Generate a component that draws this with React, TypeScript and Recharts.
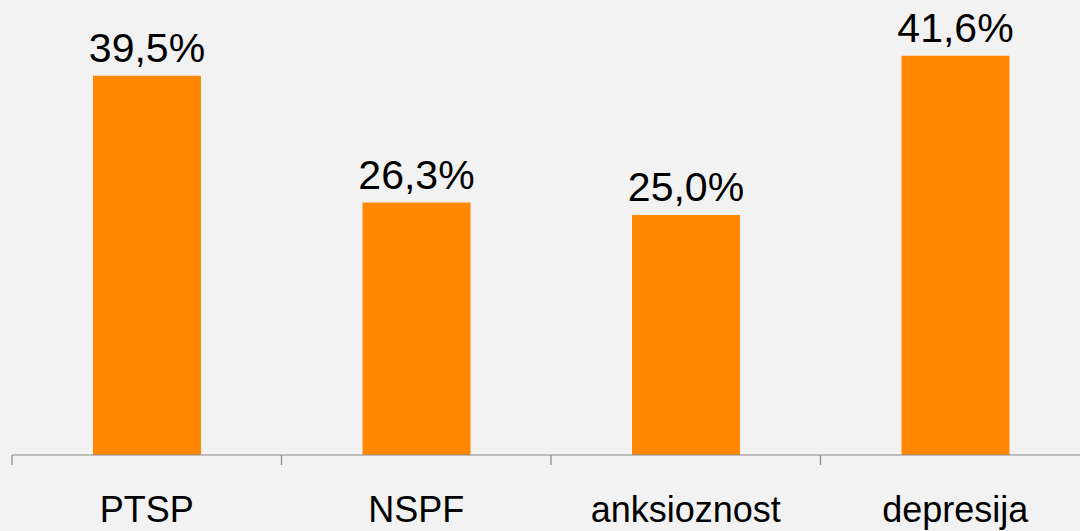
import React from "react";
import { BarChart, Bar, XAxis, YAxis, LabelList } from "recharts";

const categories = ["PTSP", "NSPF", "anksioznost", "depresija"];
const values = [39.5, 26.3, 25.0, 41.6];

const data = categories.map((name, i) => ({ name, value: values[i] }));

const fmt = (v: number) => v.toFixed(1).replace(".", ",") + "%";

const BAND = 269.5;

const CatTick = (props: any) => {
  const { x, y, payload, index } = props;
  const axisY = y - 10;
  const left = x - BAND / 2;
  return (
    <g>
      <line x1={left} y1={axisY} x2={left} y2={axisY + 10} stroke="#898989" strokeWidth={1.2} />
      {index === categories.length - 1 && (
        <line x1={x + BAND / 2} y1={axisY} x2={x + BAND / 2} y2={axisY + 10} stroke="#898989" strokeWidth={1.2} />
      )}
      <text x={x} y={axisY + 67} textAnchor="middle" fontSize={36} fill="#000" fontFamily="'Liberation Sans', Arial, sans-serif">
        {payload.value}
      </text>
    </g>
  );
};

export default function App() {
  return (
    <div style={{ position: "absolute", left: 0, top: 0, width: 1080, height: 531, overflow: "hidden", background: "#F2F2F2" }}>
      <BarChart
        width={1090}
        height={531}
        data={data}
        margin={{ top: 23, right: 0, left: 12, bottom: 0 }}
        style={{ fontFamily: "'Liberation Sans', Arial, sans-serif" }}
      >
        <YAxis hide domain={[0, 45]} />
        <XAxis
          dataKey="name"
          height={76}
          tickSize={10}
          tickMargin={0}
          tickLine={false}
          axisLine={{ stroke: "#898989", strokeWidth: 1.2 }}
          tick={<CatTick />}
          interval={0}
        />
        <Bar dataKey="value" fill="#FF8800" barSize={108} isAnimationActive={false}>
          <LabelList
            dataKey="value"
            position="top"
            offset={14}
            formatter={(v: any) => fmt(Number(v))}
            style={{ fontSize: 41, fill: "#000", fontFamily: "'Liberation Sans', Arial, sans-serif" }}
          />
        </Bar>
      </BarChart>
    </div>
  );
}
